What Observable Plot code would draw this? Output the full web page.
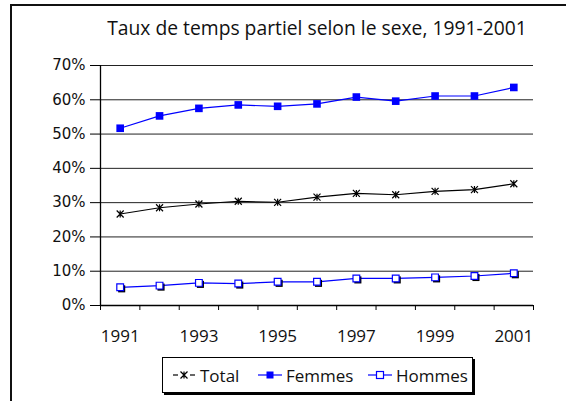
<!DOCTYPE html>
<html>
<head>
<meta charset="utf-8">
<script src="https://cdn.jsdelivr.net/npm/d3@7"></script>
<script src="https://cdn.jsdelivr.net/npm/@observablehq/plot@0.6"></script>
<style>
  html, body { margin: 0; padding: 0; background: #fff; }
  body { width: 566px; height: 401px; overflow: hidden; font-family: "Open Sans", "DejaVu Sans", sans-serif; }
  #wrap { position: relative; width: 566px; height: 401px; }
  #frame { position: absolute; left: 10px; top: 4px; right: 0; bottom: 0; border-left: 2px solid #111; border-top: 2px solid #111; }
  #title { position: absolute; left: 0; width: 634px; top: 14px; text-align: center; font-size: 19.3px; color: #111; white-space: nowrap; }
  #chart { position: absolute; left: 0; top: 0; }
  #legend { position: absolute; left: 162px; top: 357px; width: 309px; height: 34px; border: 1px solid #000; box-shadow: 2px 2px 0 #000; background: #fff; font-size: 17px; color: #111; }
  #legend .item { position: absolute; top: 0; height: 34px; display: flex; align-items: center; white-space: nowrap; }
  #legend svg { display: block; }
</style>
</head>
<body>
<div id="wrap">
  <div id="frame"></div>
  <div id="chart"></div>
  <div id="title">Taux de temps partiel selon le sexe, 1991-2001</div>
  <div id="legend"></div>
</div>
<script>
// ---- data ----
const years = [1991, 1992, 1993, 1994, 1995, 1996, 1997, 1998, 1999, 2000, 2001];
const total = [26.7, 28.5, 29.6, 30.4, 30.1, 31.6, 32.7, 32.3, 33.3, 33.8, 35.5];
const femmes = [51.7, 55.3, 57.5, 58.5, 58.1, 58.8, 60.8, 59.6, 61.1, 61.1, 63.6];
const hommes = [5.3, 5.8, 6.6, 6.4, 6.9, 6.9, 7.9, 7.9, 8.2, 8.6, 9.4];
const yTicks = [0, 10, 20, 30, 40, 50, 60, 70];
const xLabels = [1991, 1993, 1995, 1997, 1999, 2001];
const seriesNames = ["Total", "Femmes", "Hommes"];

const rows = (vals) => years.map((yr, i) => ({year: yr, value: vals[i]}));
const dTotal = rows(total), dFemmes = rows(femmes), dHommes = rows(hommes);
const boundaries = years.map(y => y - 0.5).concat([years[years.length - 1] + 0.5]);

const blue = "#0000ff";
const starSymbol = {
  draw(ctx, size) {
    const r = Math.sqrt(size / Math.PI);
    ctx.moveTo(-r, -r); ctx.lineTo(r, r);
    ctx.moveTo(r, -r); ctx.lineTo(-r, r);
    ctx.moveTo(0, -r); ctx.lineTo(0, r);
  }
};

const chart = Plot.plot({
  width: 566,
  height: 362,
  marginTop: 65,
  marginBottom: 57,
  marginLeft: 100,
  marginRight: 33,
  style: {fontFamily: "'Open Sans', 'DejaVu Sans', sans-serif", background: "transparent", color: "#111", overflow: "visible"},
  x: {type: "linear", domain: [boundaries[0], boundaries[boundaries.length - 1]]},
  y: {domain: [0, 70]},
  marks: [
    Plot.ruleY(yTicks.filter(t => t > 0), {stroke: "#222", strokeWidth: 1}),
    Plot.axisY({ticks: yTicks, tickFormat: d => d + "%", tickSize: 10, tickPadding: 5, fontSize: 15, fontFamily: "'DejaVu Sans', sans-serif", label: null, stroke: "#000"}),
    Plot.axisX({ticks: boundaries, tickFormat: () => "", tickSize: 5, label: null, stroke: "#000"}),
    Plot.axisX({ticks: xLabels, tickFormat: d => String(d), tickSize: 0, tickPadding: 24, fontSize: 17, label: null}),
    Plot.ruleX([boundaries[0]], {stroke: "#000", strokeWidth: 1.3}),
    Plot.ruleY([0], {stroke: "#000", strokeWidth: 1.3}),
    // Hommes
    Plot.line(dHommes, {x: "year", y: "value", stroke: blue, strokeWidth: 1.2}),
    Plot.dot(dHommes, {x: "year", y: "value", symbol: "square", r: 4, fill: "#000", stroke: "none", dx: 1.5, dy: 1.5}),
    Plot.dot(dHommes, {x: "year", y: "value", symbol: "square", r: 3.8, fill: "#fff", stroke: blue, strokeWidth: 1.2}),
    // Total
    Plot.line(dTotal, {x: "year", y: "value", stroke: "#000", strokeWidth: 1.1}),
    Plot.dot(dTotal, {x: "year", y: "value", symbol: starSymbol, r: 3.5, fill: "none", stroke: "#000", strokeWidth: 1.2}),
    // Femmes
    Plot.line(dFemmes, {x: "year", y: "value", stroke: blue, strokeWidth: 1.2}),
    Plot.dot(dFemmes, {x: "year", y: "value", symbol: "square", r: 4.3, fill: blue, stroke: "none"})
  ]
});
document.getElementById("chart").appendChild(chart);

// ---- legend ----
const legend = d3.select("#legend");
const swatch = {
  Total: (g) => {
    g.append("line").attr("x1", 1).attr("x2", 6).attr("y1", 10).attr("y2", 10).attr("stroke", "#000").attr("stroke-width", 1.2);
    g.append("line").attr("x1", 18).attr("x2", 23).attr("y1", 10).attr("y2", 10).attr("stroke", "#000").attr("stroke-width", 1.2);
    g.append("path").attr("transform", "translate(12,10)").attr("d", d3.symbol(starSymbol, Math.PI * 3.5 * 3.5)()).attr("fill", "none").attr("stroke", "#000").attr("stroke-width", 1.2);
  },
  Femmes: (g) => {
    g.append("line").attr("x1", 0).attr("x2", 24).attr("y1", 10).attr("y2", 10).attr("stroke", blue).attr("stroke-width", 1.2);
    g.append("rect").attr("x", 8.5).attr("y", 6.5).attr("width", 7).attr("height", 7).attr("fill", blue);
  },
  Hommes: (g) => {
    g.append("line").attr("x1", 0).attr("x2", 24).attr("y1", 10).attr("y2", 10).attr("stroke", blue).attr("stroke-width", 1.2);
    g.append("rect").attr("x", 8.5).attr("y", 6.5).attr("width", 7).attr("height", 7).attr("fill", "#fff").attr("stroke", blue).attr("stroke-width", 1.2);
  }
};
const itemLeft = [9, 95, 205];
seriesNames.forEach((name, i) => {
  const item = legend.append("div").attr("class", "item").style("left", itemLeft[i] + "px");
  const svg = item.append("svg").attr("width", 25).attr("height", 20);
  swatch[name](svg);
  item.append("span").style("margin-left", "3px").text(name);
});
</script>
</body>
</html>
